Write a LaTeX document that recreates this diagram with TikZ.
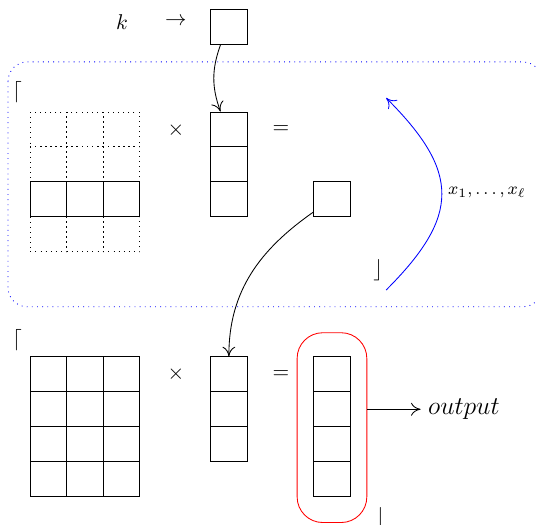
\documentclass[tikz,border=0pt]{standalone}
\usepackage{amsmath}
\usetikzlibrary{positioning}
\usetikzlibrary{calc}
\usetikzlibrary{arrows.meta}

\begin{document}
\begin{tikzpicture}[x=0.6cm, y=0.575cm, >={To[length=4.5pt, width=6pt]},
  cell/.style={draw, minimum width=0.6cm, minimum height=0.575cm, inner sep=0pt},
  dotcell/.style={cell, dotted}]

\useasboundingbox (0,0) rectangle (14.685,-15);

%---------------------------------------
% Key k
%---------------------------------------
\node (klab) at (3.34,-0.63) {$k$};
\node (karr) at (4.82,-0.63) {$\rightarrow$};
\node[cell] (kbox) at (6.27,-0.77) {};

%====================================================
% TOP BLOCK
%====================================================
\draw[blue, dotted, rounded corners=9pt] (0.22,-1.77) rectangle (14.85,-8.77);
\node (tl1) at (0.47,-2.63) {$\lceil$};

% Dotted matrix with one solid row
\foreach \r in {1,...,4}
  \foreach \c in {1,2,3}
    \node[dotcell] (a\r\c) at (0.33+\c,-2.7-\r) {};
\foreach \c in {1,2,3}
  \node[cell] (h\c) at (0.33+\c,-5.7) {};

\node (tm1) at (4.82,-3.71) {$\times$};

% Vector
\foreach \r in {1,2,3}
  \node[cell] (v\r) at (6.27,-2.7-\r) {};

\node (te1) at (7.70,-3.71) {$=$};
\node[cell] (sbox) at (9.1,-5.7) {};
\node (br1) at (10.36,-7.71) {$\rfloor$};

% Loop back
\coordinate (xs) at (10.58,-8.29);
\coordinate (xe) at (10.58,-2.8);
\draw[->, blue] (xs) to[out=45, in=-45, looseness=1.4] (xe);
\node (xlab) at (13.34,-5.51) {\footnotesize $x_1,\ldots,x_\ell$};

%====================================================
% BOTTOM BLOCK
%====================================================
\node (tl2) at (0.47,-9.71) {$\lceil$};

% Matrix
\foreach \r in {1,...,4}
  \foreach \c in {1,2,3}
    \node[cell] (b\r\c) at (0.33+\c,-9.7-\r) {};

\node (tm2) at (4.82,-10.71) {$\times$};

% Vector
\foreach \r in {1,2,3}
  \node[cell] (w\r) at (6.27,-9.7-\r) {};

\node (te2) at (7.70,-10.71) {$=$};

% Result
\foreach \r in {1,...,4}
  \node[cell] (o\r) at (9.1,-9.7-\r) {};
\node[draw=red, rounded corners=12pt, minimum width=1.146cm, minimum height=3.12cm] (outbox) at (9.095,-12.225) {};
\node (br2) at (10.41,-14.8) {$\rfloor$};
\node (outlab) at (12.71,-11.7) {\large $output$};

% Connectors
\draw[->] (kbox.245) to[bend right=20] (v1.115);
\draw[->] (sbox.214) to[out=215, in=90] (w1.north);
\draw[->] (outbox.east |- o2) -- (outlab);

\end{tikzpicture}
\end{document}
